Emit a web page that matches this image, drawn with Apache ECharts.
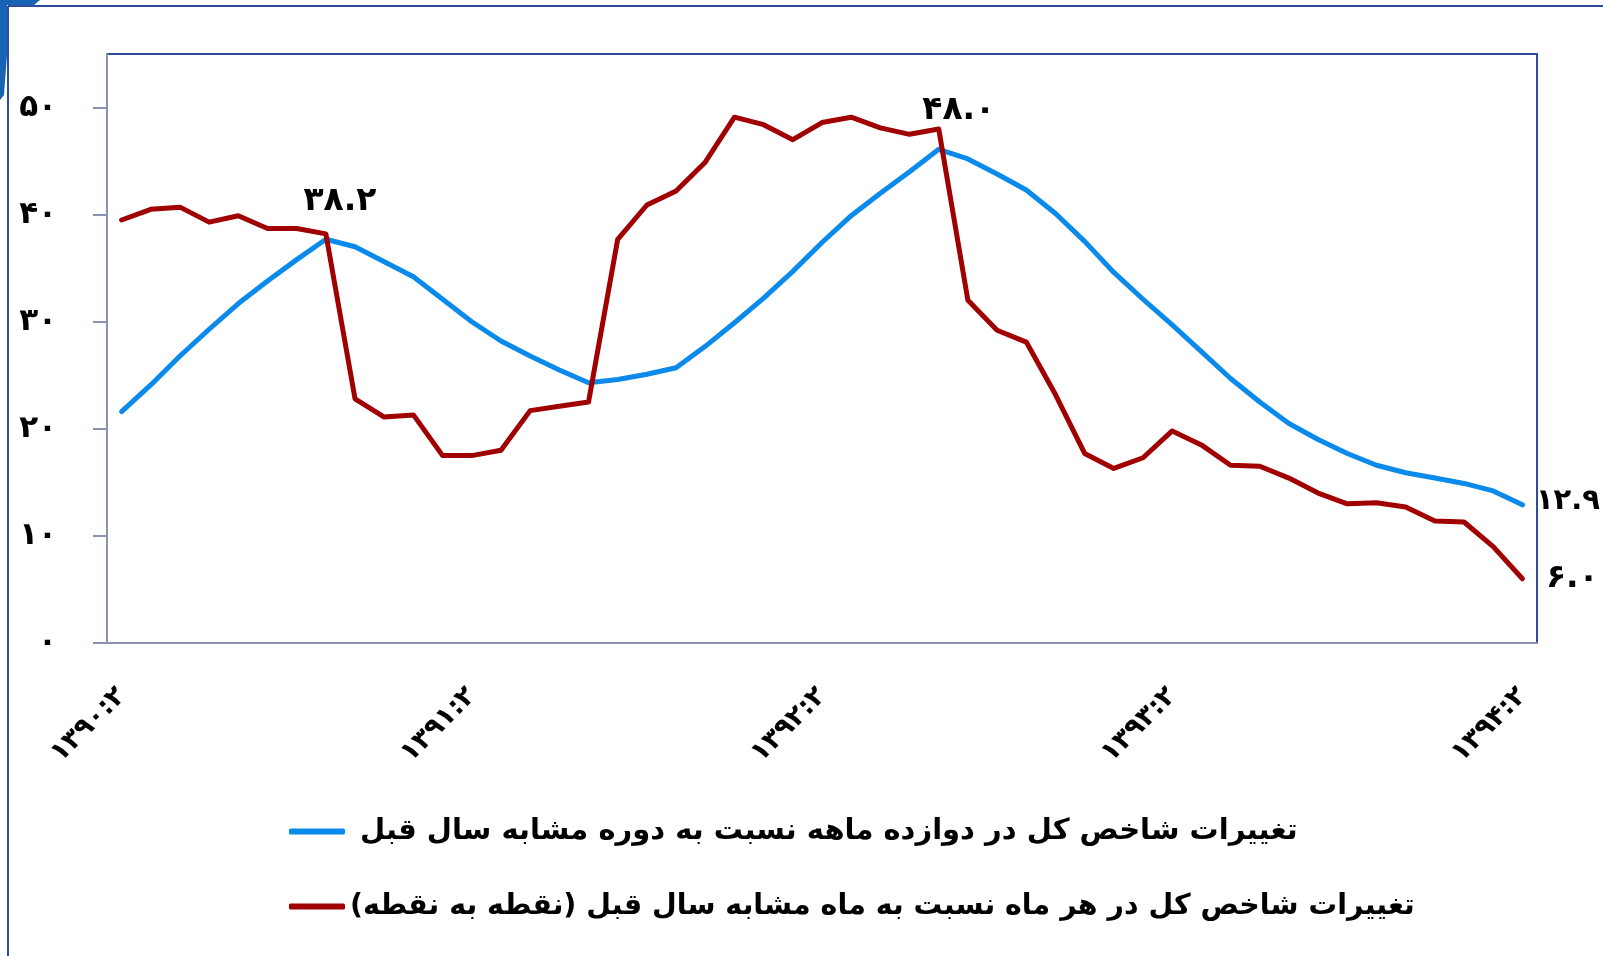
<!DOCTYPE html>
<html>
<head>
<meta charset="utf-8">
<script src="https://cdn.jsdelivr.net/npm/echarts@6/dist/echarts.min.js"></script>
<style>
  html, body { margin: 0; padding: 0; background: #fff; }
  #chart { width: 1603px; height: 956px; direction: rtl; }
</style>
</head>
<body>
<div id="chart"></div>
<script>
// months 1390:2 .. 1394:2
const months = [
  '1390:2','1390:3','1390:4','1390:5','1390:6','1390:7','1390:8','1390:9','1390:10','1390:11','1390:12',
  '1391:1','1391:2','1391:3','1391:4','1391:5','1391:6','1391:7','1391:8','1391:9','1391:10','1391:11','1391:12',
  '1392:1','1392:2','1392:3','1392:4','1392:5','1392:6','1392:7','1392:8','1392:9','1392:10','1392:11','1392:12',
  '1393:1','1393:2','1393:3','1393:4','1393:5','1393:6','1393:7','1393:8','1393:9','1393:10','1393:11','1393:12',
  '1394:1','1394:2'
];
const yTicks = [0, 10, 20, 30, 40, 50];

// twelve month change
const annualAvg = [
  21.6, 24.1, 26.8, 29.3, 31.7, 33.8, 35.8, 37.7, 37.0, 35.6, 34.2, 32.1,
  30.0, 28.2, 26.8, 25.5, 24.3, 24.6, 25.1, 25.7, 27.7, 29.9, 32.2, 34.7,
  37.4, 39.9, 42.0, 44.0, 46.1, 45.2, 43.8, 42.3, 40.1, 37.5, 34.6, 32.1,
  29.7, 27.2, 24.7, 22.5, 20.5, 19.0, 17.7, 16.6, 15.9, 15.4, 14.9, 14.2,
  12.9
];
// point to point change
const pointToPoint = [
  39.5, 40.5, 40.7, 39.3, 39.9, 38.7, 38.7, 38.2, 22.8, 21.1, 21.3, 17.5,
  17.5, 18.0, 21.7, 22.1, 22.5, 37.7, 40.9, 42.2, 44.9, 49.1, 48.4, 47.0,
  48.6, 49.1, 48.1, 47.5, 48.0, 32.0, 29.2, 28.1, 23.2, 17.7, 16.3, 17.3,
  19.8, 18.5, 16.6, 16.5, 15.4, 14.0, 13.0, 13.1, 12.7, 11.4, 11.3, 9.0,
  6.0
];

const annualName = 'تغییرات شاخص کل در دوازده ماهه نسبت به دوره مشابه سال قبل';
const p2pName = 'تغییرات شاخص کل در هر ماه نسبت به ماه مشابه سال قبل (نقطه به نقطه)';

const FONT = 'DejaVu Sans';
const toFa = s => String(s).replace(/\d/g, d => '۰۱۲۳۴۵۶۷۸۹'[d]);

// which points get a value label, and where
const annualLabels = { 48: { position: 'right', offset: [8, -3] } };
const p2pLabels = {
  7: { position: 'top', offset: [14, -10] },
  28: { position: 'top', offset: [20, 3] },
  48: { position: 'right', offset: [18, 0] }
};

// labelled points need a (tiny) symbol, otherwise the line series drops the label
function withLabels(values, opts) {
  return values.map((v, i) => opts[i] ? {
    value: v,
    symbol: 'circle',
    symbolSize: 1,
    label: Object.assign({ show: true, formatter: toFa(v.toFixed(1)) }, opts[i])
  } : v);
}

const chart = echarts.init(document.getElementById('chart'));
const option = {
  backgroundColor: '#fff',
  animation: false,
  grid: {
    left: 107, top: 54, right: 66, bottom: 313,
    show: true, borderColor: '#2E4C9C', borderWidth: 2,
    outerBoundsMode: 'none'
  },
  graphic: [
    { type: 'polygon', shape: { points: [[0,0],[40,0],[34,5],[7,5],[7,55],[4,95],[0,100]] },
      style: { fill: '#1664B3' }, silent: true },
    { type: 'line', shape: { x1: 8, y1: 6, x2: 1603, y2: 6 },
      style: { stroke: '#2E4C9C', lineWidth: 2 }, silent: true },
    { type: 'line', shape: { x1: 8, y1: 6, x2: 8, y2: 956 },
      style: { stroke: '#2E4C9C', lineWidth: 2 }, silent: true }
  ],
  legend: {
    orient: 'vertical',
    left: 289, top: 817,
    padding: 0,
    itemGap: 46,
    itemWidth: 56, itemHeight: 6,
    icon: 'roundRect',
    textStyle: { fontFamily: FONT, fontWeight: 'bold', fontSize: 29, color: '#000' },
    data: [
      { name: annualName, textStyle: { padding: [0, 0, 0, 10] } },
      { name: p2pName, textStyle: { fontSize: 28.5, padding: [0, 0, 0, 0] } }
    ]
  },
  xAxis: {
    type: 'category',
    data: months,
    boundaryGap: true,
    axisLine: { lineStyle: { color: '#8A91B1', width: 2 } },
    axisTick: { interval: 11, length: 13, lineStyle: { color: '#8A91B1', width: 2 } },
    axisLabel: {
      interval: 11, rotate: 45, margin: 49,
      fontFamily: FONT, fontWeight: 'bold', fontSize: 27, color: '#000',
      formatter: v => toFa(v)
    },
    splitLine: { show: false }
  },
  yAxis: {
    type: 'value',
    min: 0, max: 55, interval: 10,
    axisLine: { show: true, lineStyle: { color: '#8A91B1', width: 2 } },
    axisTick: { show: true, length: 14, customValues: yTicks, lineStyle: { color: '#8A91B1', width: 2 } },
    axisLabel: {
      customValues: yTicks, margin: 50,
      fontFamily: FONT, fontWeight: 'bold', fontSize: 31, color: '#000',
      formatter: v => toFa(v)
    },
    splitLine: { show: false }
  },
  series: [
    {
      name: annualName,
      type: 'line',
      data: withLabels(annualAvg, annualLabels),
      symbol: 'none',
      color: '#0A8AEB',
      lineStyle: { color: '#0A8AEB', width: 5, cap: 'round', join: 'round' },
      label: { fontFamily: FONT, fontWeight: 'bold', fontSize: 29, color: '#000' }
    },
    {
      name: p2pName,
      type: 'line',
      data: withLabels(pointToPoint, p2pLabels),
      symbol: 'none',
      color: '#A00000',
      lineStyle: { color: '#A00000', width: 5, cap: 'round', join: 'round' },
      label: { fontFamily: FONT, fontWeight: 'bold', fontSize: 33, color: '#000' }
    }
  ]
};
chart.setOption(option);
</script>
</body>
</html>
